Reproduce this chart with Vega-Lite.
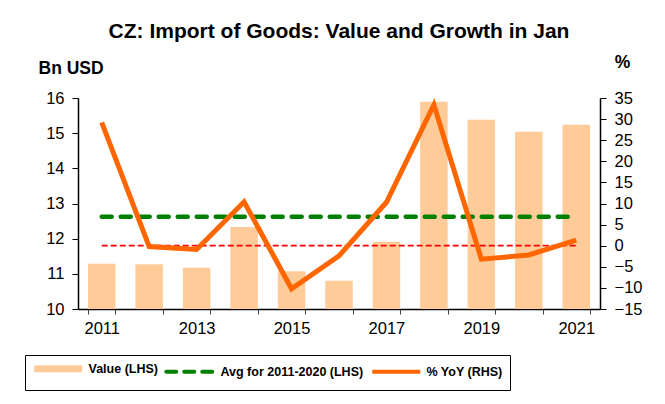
{
  "$schema": "https://vega.github.io/schema/vega-lite/v6.json",
  "width": 522,
  "height": 211,
  "autosize": {"type": "none"},
  "padding": {"left": 78, "top": 98, "right": 65, "bottom": 95},
  "background": "white",
  "config": {
    "font": "Liberation Sans",
    "view": {"stroke": null}
  },
  "title": {
    "text": "CZ: Import of Goods: Value and Growth in Jan",
    "fontSize": 21,
    "fontWeight": "bold",
    "color": "black",
    "anchor": "middle",
    "offset": 11
  },
  "data": {
    "values": [
      {"year": 2011, "value": 11.29, "yoy": 29.2, "avg": 12.62, "zero": 0},
      {"year": 2012, "value": 11.27, "yoy": -0.2, "avg": 12.62, "zero": 0},
      {"year": 2013, "value": 11.17, "yoy": -0.9, "avg": 12.62, "zero": 0},
      {"year": 2014, "value": 12.33, "yoy": 10.4, "avg": 12.62, "zero": 0},
      {"year": 2015, "value": 11.07, "yoy": -10.2, "avg": 12.62, "zero": 0},
      {"year": 2016, "value": 10.80, "yoy": -2.4, "avg": 12.62, "zero": 0},
      {"year": 2017, "value": 11.91, "yoy": 10.3, "avg": 12.62, "zero": 0},
      {"year": 2018, "value": 15.89, "yoy": 33.4, "avg": 12.62, "zero": 0},
      {"year": 2019, "value": 15.38, "yoy": -3.2, "avg": 12.62, "zero": 0},
      {"year": 2020, "value": 15.04, "yoy": -2.2, "avg": 12.62, "zero": 0},
      {"year": 2021, "value": 15.24, "yoy": 1.3, "avg": 12.62, "zero": 0}
    ]
  },
  "encoding": {
    "x": {
      "field": "year",
      "type": "ordinal",
      "scale": {"paddingInner": 0.42, "paddingOuter": 0.21},
      "axis": {
        "title": null,
        "labelAngle": 0,
        "labelExpr": "datum.value % 2 == 1 ? datum.label : ''",
        "tickBand": "extent",
        "domainColor": "black",
        "domainWidth": 1.5,
        "tickColor": "#444444",
        "tickSize": 5,
        "labelFontSize": 16.5,
        "labelColor": "black",
        "labelPadding": 6
      }
    }
  },
  "layer": [
    {
      "layer": [
        {
          "mark": {"type": "bar", "clip": true},
          "encoding": {
            "y": {
              "field": "value",
              "type": "quantitative",
              "scale": {"domain": [10, 16], "zero": false, "nice": false},
              "axis": {
                "title": "Bn USD",
                "titleAngle": 0,
                "titleX": -40,
                "titleY": -25,
                "titleAlign": "left",
                "titleBaseline": "alphabetic",
                "titleFontSize": 17.5,
                "titleFontWeight": "bold",
                "titleColor": "black",
                "values": [10, 11, 12, 13, 14, 15, 16],
                "grid": false,
                "domainColor": "black",
                "domainWidth": 1.5,
                "tickColor": "black",
                "tickSize": 6,
                "labelFontSize": 16.5,
                "labelColor": "black",
                "labelPadding": 8
              }
            },
            "color": {
              "datum": "Value (LHS)",
              "scale": {
                "domain": ["Value (LHS)", "Avg for 2011-2020 (LHS)", "% YoY (RHS)"],
                "range": ["#FFCC99", "#008000", "#FF6600"]
              },
              "legend": {
                "title": null,
                "orient": "none",
                "legendX": -53,
                "legendY": 257,
                "direction": "horizontal",
                "symbolType": "stroke",
                "symbolSize": 2300,
                "symbolOffset": 20,
                "labelOffset": 24,
                "labelFontSize": 12.5,
                "labelFontWeight": "bold",
                "labelColor": "black",
                "labelLimit": 300,
                "columnPadding": 0,
                "padding": 7,
                "strokeColor": "black",
                "fillColor": "white",
                "encode": {
                  "symbols": {
                    "update": {
                      "stroke": {"signal": "scale('color', datum.value)"},
                      "strokeWidth": {"signal": "datum.value == 'Value (LHS)' ? 7 : 4"},
                      "strokeDash": {"signal": "datum.value == 'Avg for 2011-2020 (LHS)' ? [10, 8] : []"},
                      "strokeCap": {"signal": "datum.value == 'Avg for 2011-2020 (LHS)' ? 'round' : 'butt'"}
                    }
                  }
                }
              }
            }
          }
        },
        {
          "mark": {"type": "line", "strokeWidth": 4.5, "strokeDash": [10, 9], "strokeCap": "round"},
          "encoding": {
            "y": {
              "field": "avg",
              "type": "quantitative",
              "scale": {"domain": [10, 16], "zero": false, "nice": false},
              "axis": {
                "title": "Bn USD",
                "titleAngle": 0,
                "titleX": -40,
                "titleY": -25,
                "titleAlign": "left",
                "titleBaseline": "alphabetic",
                "titleFontSize": 17.5,
                "titleFontWeight": "bold",
                "titleColor": "black",
                "values": [10, 11, 12, 13, 14, 15, 16],
                "grid": false,
                "domainColor": "black",
                "domainWidth": 1.5,
                "tickColor": "black",
                "tickSize": 6,
                "labelFontSize": 16.5,
                "labelColor": "black",
                "labelPadding": 8
              }
            },
            "color": {"datum": "Avg for 2011-2020 (LHS)"}
          }
        }
      ]
    },
    {
      "layer": [
        {
          "mark": {"type": "line", "color": "#FF0000", "strokeWidth": 1.8, "strokeDash": [6, 3]},
          "encoding": {
            "y": {
              "field": "zero",
              "type": "quantitative",
              "scale": {"domain": [-15, 35], "nice": false},
              "axis": {
                "orient": "right",
                "title": "%",
                "titleAngle": 0,
                "titleX": 22,
                "titleY": -31,
                "titleAlign": "center",
                "titleBaseline": "alphabetic",
                "titleFontSize": 17.5,
                "titleFontWeight": "bold",
                "titleColor": "black",
                "values": [-15, -10, -5, 0, 5, 10, 15, 20, 25, 30, 35],
                "grid": false,
                "domainColor": "black",
                "domainWidth": 1.5,
                "tickColor": "black",
                "tickSize": 6,
                "labelFontSize": 16.5,
                "labelColor": "black",
                "labelPadding": 8
              }
            }
          }
        },
        {
          "mark": {"type": "line", "strokeWidth": 5, "strokeJoin": "miter"},
          "encoding": {
            "y": {
              "field": "yoy",
              "type": "quantitative",
              "scale": {"domain": [-15, 35], "nice": false},
              "axis": {
                "orient": "right",
                "title": "%",
                "titleAngle": 0,
                "titleX": 22,
                "titleY": -31,
                "titleAlign": "center",
                "titleBaseline": "alphabetic",
                "titleFontSize": 17.5,
                "titleFontWeight": "bold",
                "titleColor": "black",
                "values": [-15, -10, -5, 0, 5, 10, 15, 20, 25, 30, 35],
                "grid": false,
                "domainColor": "black",
                "domainWidth": 1.5,
                "tickColor": "black",
                "tickSize": 6,
                "labelFontSize": 16.5,
                "labelColor": "black",
                "labelPadding": 8
              }
            },
            "color": {"datum": "% YoY (RHS)"}
          }
        }
      ]
    }
  ],
  "resolve": {"scale": {"y": "independent"}}
}
